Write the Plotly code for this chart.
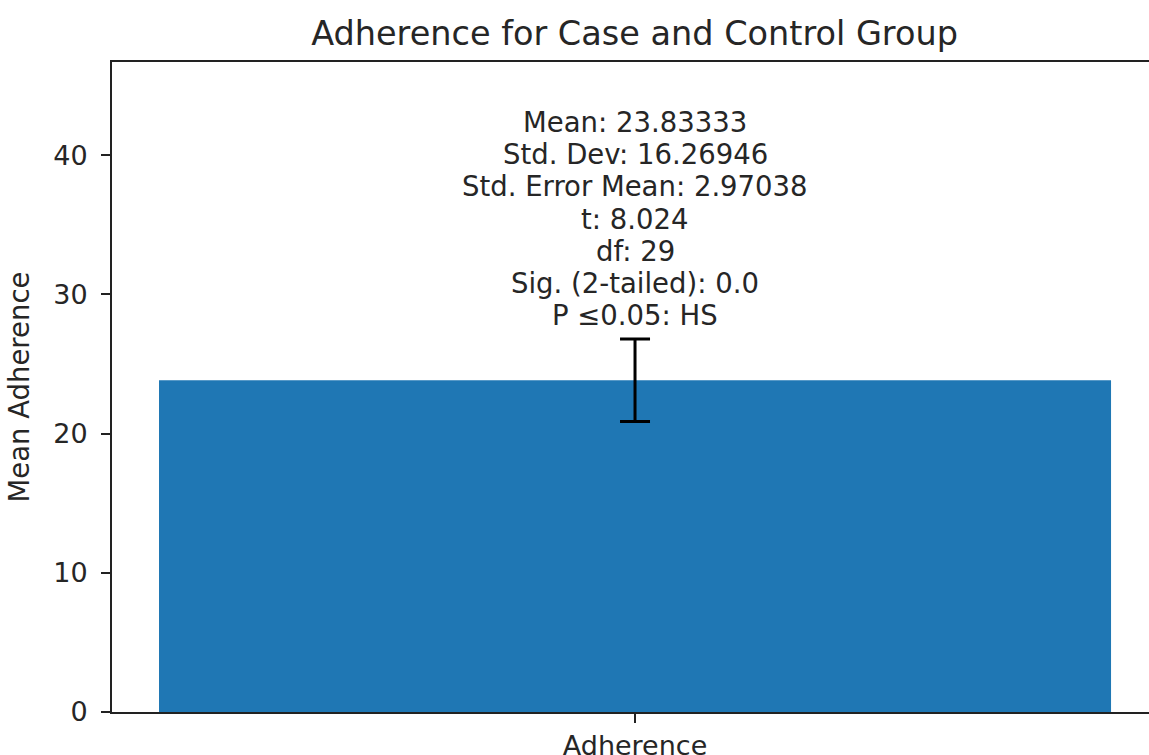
import plotly.graph_objects as go

# Summary statistics for the adherence score
categories = ["Adherence"]
mean_values = [23.83333]
sem_values = [2.97038]
stat_lines = [
    "Mean: 23.83333",
    "Std. Dev: 16.26946",
    "Std. Error Mean: 2.97038",
    "t: 8.024",
    "df: 29",
    "Sig. (2-tailed): 0.0",
    "P \u22640.05: HS",
]
y_ticks = [0, 10, 20, 30, 40]

FONT = "DejaVu Sans"
BAR_BLUE = "#1f77b4"

fig = go.Figure()
fig.add_trace(
    go.Bar(
        x=categories,
        y=mean_values,
        width=0.8,
        marker=dict(color=BAR_BLUE, line=dict(width=0)),
        error_y=dict(
            type="data",
            array=sem_values,
            visible=True,
            color="black",
            thickness=3,
            width=15,
        ),
        hoverinfo="skip",
    )
)

# Stats block stacked above the error bar, one line per annotation
top_of_error = mean_values[0] + sem_values[0]
line_step = 32.3
n = len(stat_lines)
for i, line in enumerate(stat_lines):
    fig.add_annotation(
        x=categories[0],
        y=top_of_error,
        text=line,
        showarrow=False,
        xanchor="center",
        yanchor="middle",
        yshift=23.5 + (n - 1 - i) * line_step,
        font=dict(family=FONT, size=27.5, color="#262626"),
    )

fig.update_layout(
    width=1149,
    height=755,
    margin=dict(l=112, r=0, t=62, b=43, autoexpand=False),
    paper_bgcolor="white",
    plot_bgcolor="white",
    showlegend=False,
    font=dict(family=FONT, color="#262626"),
    title=dict(
        text="Adherence for Case and Control Group",
        font=dict(family=FONT, size=33.5, color="#262626"),
        xref="paper",
        x=0.5039,
        xanchor="center",
        yref="container",
        y=0.9555,
        yanchor="middle",
    ),
    xaxis=dict(
        range=[-0.4395, 0.4319],
        automargin=False,
        showgrid=False,
        zeroline=False,
        showline=True,
        linecolor="#222222",
        linewidth=2,
        mirror=True,
        ticks="outside",
        ticklen=9,
        tickwidth=2,
        tickcolor="#222222",
        ticklabelstandoff=0,
        tickfont=dict(family=FONT, size=27, color="#262626"),
    ),
    yaxis=dict(
        range=[0, 46.7],
        automargin=False,
        tickvals=y_ticks,
        showgrid=False,
        zeroline=False,
        showline=True,
        linecolor="#222222",
        linewidth=2,
        ticks="outside",
        ticklen=9,
        tickwidth=2,
        tickcolor="#222222",
        ticklabelstandoff=8,
        tickfont=dict(family=FONT, size=27, color="#262626"),
        title=dict(
            text="Mean Adherence",
            standoff=16,
            font=dict(family=FONT, size=27.5, color="#262626"),
        ),
    ),
)

fig.write_html("out.html")
